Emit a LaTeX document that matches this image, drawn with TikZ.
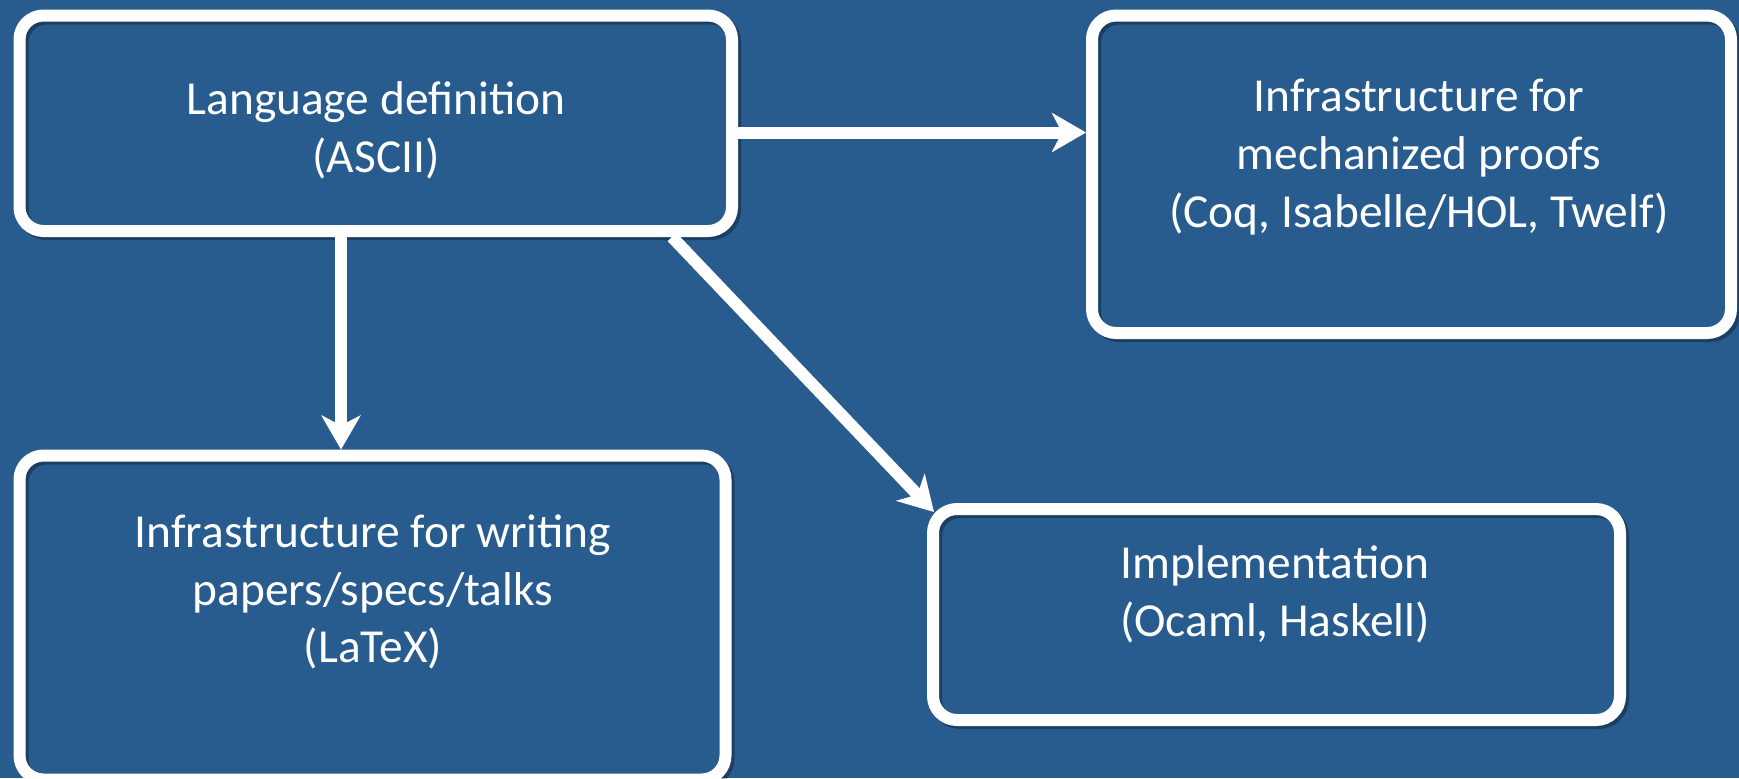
\documentclass[tikz,border=0pt]{standalone}
\usepackage{fontspec}
\setmainfont{Carlito}
\usetikzlibrary{arrows.meta,calc}
\definecolor{bgblue}{RGB}{40,91,142}
\begin{document}
\begin{tikzpicture}[x=0.5pt,y=-0.5pt,
  box/.style={rectangle, draw=white, line width=6pt, rounded corners=12pt, inner sep=0pt,
    preaction={draw=black, draw opacity=0.3, line width=6pt, transform canvas={shift={(1.5pt,-1.5pt)}}}},
  lbl/.style={text=white, align=center, font=\fontsize{23.7}{28.9}\selectfont, inner sep=0pt},
  arr/.style={draw=white, line width=6pt, -{Stealth[length=17pt,width=19.5pt,inset=5pt]}}]
\fill[bgblue] (0,0) rectangle (1739,778);
\useasboundingbox (0,0) rectangle (1739,778);

\node[box, minimum width=356.25pt, minimum height=107.75pt] (A) at (375.75,123.25) {};
\node[box, minimum width=319.5pt, minimum height=158.75pt] (B) at (1411.5,174.25) {};
\node[box, minimum width=353pt, minimum height=162pt] (C) at (372.5,617.5) {};
\node[box, minimum width=343.5pt, minimum height=105.5pt] (D) at (1276.5,614.5) {};

\node[lbl] (tA) at (376,130) {Language definition\\(ASCII)};
\node[lbl] (tB) at (1419,157) {Infrastructure for\\mechanized proofs\\(Coq, Isabelle/HOL, Twelf)};
\node[lbl] (tC) at (373,592) {Infrastructure for writing\\papers/specs/talks\\(LaTeX)};
\node[lbl] (tD) at (1275,594) {Implementation\\(Ocaml, Haskell)};

\coordinate (ab) at ($(A.east)+(0,9.25)$);
\draw[arr] (ab) -- (ab -| B.west);
\coordinate (ac) at ($(A.south)+(-34.75,0)$);
\draw[arr] (ac) -- (ac |- C.north);
\coordinate (ad) at ($(A.south)+(296.25,0)$);
\draw[arr] (ad) -- ($(D.north west)+(7,9)$);
\end{tikzpicture}
\end{document}
